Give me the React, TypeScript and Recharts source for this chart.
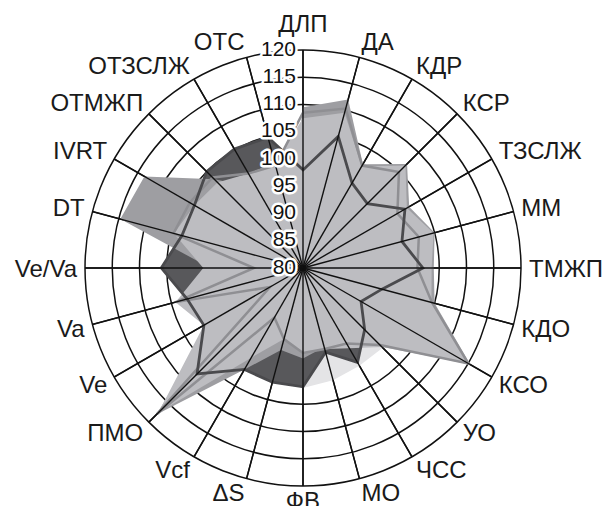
import { PolarAngleAxis, PolarGrid, PolarRadiusAxis, Radar, RadarChart } from "recharts";

const categories = [
  "ДЛП", "ДА", "КДР", "КСР", "ТЗСЛЖ", "ММ", "ТМЖП", "КДО", "КСО", "УО", "ЧСС", "МО",
  "ФВ", "ΔS", "Vcf", "ПМО", "Ve", "Va", "Ve/Va", "DT", "IVRT", "ОТМЖП", "ОТЗСЛЖ", "ОТС",
];

// filled areas, bottom to top
const veryLight = [100, 100, 100, 100, 100, 100, 100, 100, 100, 100.7, 100.7, 101.3, 102, 101, 100, 100, 100, 100, 100, 100, 100, 100, 100, 100];
const darkArea = [98, 105, 98, 96.7, 101.6, 98.8, 102, 95, 92.3, 96, 100, 96, 101.8, 101.7, 101.5, 107.5, 101, 102, 106, 103, 103, 105, 105.2, 104.8];
const mediumArea = [109.5, 112, 102, 107, 102.5, 105, 104, 105, 115.5, 100, 96, 95, 96.6, 95.6, 101.5, 118, 99, 100, 97, 114.7, 113.6, 103, 97, 90];
const lightArea = [107.5, 109.5, 101.5, 106.6, 102, 104.8, 103.6, 104.4, 115, 100.5, 97, 95.4, 95.5, 93.5, 99, 117.5, 101, 104.2, 98.3, 104.5, 103, 102.2, 100, 100];

// lines drawn over the areas
const grayLine = [108.5, 110.3, 101.7, 104.9, 100, 102, 101, 104.5, 115, 100, 96, 95.4, 95.6, 93.5, 90.5, 117.8, 87, 104.2, 89, 104.6, 104, 103.5, 100, 99.5];
const darkLine = darkArea;

const radiusTicks = [80, 85, 90, 95, 100, 105, 110, 115, 120];

const data = categories.map((name, i) => ({
  name,
  vl: veryLight[i],
  dk: darkArea[i],
  md: mediumArea[i],
  lt: lightArea[i],
  gl: grayLine[i],
  dl: darkLine[i],
}));

const W = 606;
const H = 506;
const CX = 303;
const CY = 268;
const R = 218;
const FONT = '"Liberation Sans", Arial, Helvetica, sans-serif';

function AngleTick(props: any) {
  const { x, y, payload, index } = props;
  const dx = x - CX;
  const dy = y - CY;
  const d = Math.hypot(dx, dy) || 1;
  const ux = dx / d;
  const uy = dy / d;
  const pad = index === 0 ? 18 : 8;
  const tx = CX + ux * (R + pad);
  const ty = CY + uy * (R + pad) + uy * (uy > 0 ? 6 : 8.5);
  const anchor = ux > 0.01 ? "start" : ux < -0.01 ? "end" : "middle";
  return (
    <g>
      <line x1={CX} y1={CY} x2={CX + ux * R} y2={CY + uy * R} stroke="#111" strokeWidth={1.4} />
      <text x={tx} y={ty} dy="0.36em" textAnchor={anchor} fontSize={24} fontFamily={FONT} fill="#1a1a1a">
        {payload.value}
      </text>
    </g>
  );
}

function RadiusTick(props: any) {
  const { x, y, payload } = props;
  return (
    <text
      x={x - 7}
      y={y - 2}
      dy="0.36em"
      textAnchor="end"
      fontSize={21}
      fontFamily={FONT}
      fill="#111"
      stroke="#fff"
      strokeWidth={5}
      strokeLinejoin="round"
      paintOrder="stroke"
    >
      {payload.value}
    </text>
  );
}

export default function App() {
  return (
    <div style={{ width: W, height: H, background: "#fff" }}>
      <style>{"body{margin:0}"}</style>
      <RadarChart
        width={W}
        height={H}
        data={data}
        cx={CX}
        cy={CY}
        outerRadius={R}
        margin={{ top: 0, right: 0, bottom: 0, left: 0 }}
      >
        <PolarGrid gridType="circle" stroke="#111" strokeWidth={1.5} strokeOpacity={1} />
        <Radar dataKey="vl" fill="#e4e4e6" fillOpacity={1} stroke="none" isAnimationActive={false} />
        <Radar dataKey="dk" fill="#58585b" fillOpacity={1} stroke="none" isAnimationActive={false} />
        <Radar dataKey="md" fill="#9e9ea2" fillOpacity={1} stroke="none" isAnimationActive={false} />
        <Radar dataKey="lt" fill="#bdbdc1" fillOpacity={1} stroke="none" isAnimationActive={false} />
        <Radar dataKey="gl" fill="none" stroke="#8f8f93" strokeWidth={2.5} isAnimationActive={false} />
        <Radar dataKey="dl" fill="none" stroke="#4a4a4d" strokeWidth={2.8} isAnimationActive={false} />
        <PolarAngleAxis dataKey="name" tick={AngleTick} tickLine={false} axisLine={false} />
        <PolarRadiusAxis
          angle={90}
          domain={[80, 120]}
          ticks={radiusTicks}
          tick={RadiusTick}
          axisLine={false}
          tickLine={false}
          orientation="left"
        />
      </RadarChart>
    </div>
  );
}
